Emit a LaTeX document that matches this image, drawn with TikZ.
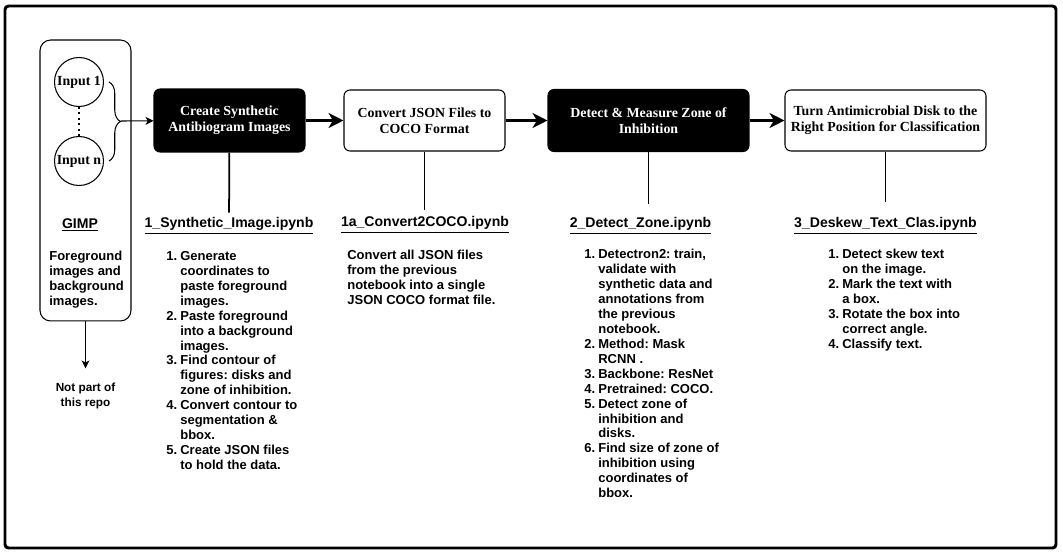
\documentclass[tikz,border=0pt]{standalone}
\usepackage{fontspec}
\setmainfont{Liberation Serif}
\setsansfont{Liberation Sans}
\usetikzlibrary{arrows.meta,decorations.pathreplacing}
\frenchspacing

\newcommand{\itm}[1]{\makebox[0.28cm][l]{#1}}
\newcommand{\cnt}{\hspace*{0.28cm}}

\tikzset{
  darkbox/.style={draw, fill=black, text=white, rounded corners=3.4pt, line width=0.6pt,
    align=center, font=\bfseries\fontsize{7.9}{9.1}\selectfont},
  lightbox/.style={draw, fill=white, rounded corners=3.4pt, line width=0.6pt,
    align=center, font=\bfseries\fontsize{7.9}{9.1}\selectfont},
  inputnode/.style={draw, circle, minimum size=0.98cm, inner sep=0pt, line width=0.6pt,
    font=\bfseries\fontsize{7.9}{9.1}\selectfont},
  heading/.style={inner sep=1pt, font=\sffamily\bfseries\fontsize{8}{9.6}\selectfont},
  body/.style={anchor=north west, inner sep=0pt, align=left,
    font=\sffamily\bfseries\fontsize{7.4}{8.5}\selectfont},
  flow/.style={line width=1.8pt, -{Stealth[length=8.5pt,width=8.5pt,inset=2.5pt]}},
  thinflow/.style={line width=0.6pt, -{Stealth[length=4.5pt,width=4.5pt,inset=1.2pt]}},
  stem/.style={line width=1pt},
}

\begin{document}
\begin{tikzpicture}[x=0.02cm, y=-0.02cm]
\useasboundingbox (0,0) rectangle (1063,554);
\draw[line width=1.7pt, rounded corners=2pt] (5,6) rectangle (1056,548);

% GIMP side
\node[draw, rounded corners=6pt, line width=0.6pt, minimum width=1.82cm, minimum height=5.62cm] (gimp) at (85.5,180.5) {};
\node[inputnode] (in1) at (79,82) {Input 1};
\node[inputnode] (inn) at (79,161) {Input n};
\draw[dotted, line width=1.1pt] (in1) -- (inn);
\coordinate (bracetop) at (109,82);
\coordinate (bracebot) at (109,161);
\coordinate (bracetip) at (121,121);
\draw[line width=0.6pt, decorate, decoration={brace, amplitude=0.23cm}] (bracetop) -- (bracebot);
\node[heading] (gimphead) at (80,225) {\underline{GIMP}};
\node[body] (gimptext) at (49,251) {Foreground\\images and\\background\\images.};
\node[align=center, font=\sffamily\bfseries\fontsize{6.7}{8.5}\selectfont] (notpart) at (85.5,396) {Not part of\\this repo};
\draw[thinflow, shorten >=0.17cm] (gimp) -- (notpart);

% main flow
\node[darkbox, minimum width=3.02cm, minimum height=1.26cm] (box1) at (229.5,120.5) {Create Synthetic\\Antibiogram Images};
\node[lightbox, minimum width=3.22cm, minimum height=1.22cm] (box2) at (424.5,120.5) {Convert JSON Files to\\COCO Format};
\node[darkbox, minimum width=4.02cm, minimum height=1.24cm] (box3) at (648.5,120.5) {Detect \& Measure Zone of\\Inhibition};
\node[lightbox, minimum width=4.02cm, minimum height=1.22cm] (box4) at (885.5,120.5) {Turn Antimicrobial Disk to the\\Right Position for Classification};

\draw[thinflow] (bracetip) -- (box1);
\draw[flow] (box1) -- (box2);
\draw[flow] (box2) -- (box3);
\draw[flow] (box3) -- (box4);

% notebooks
\node[heading] (h1) at (229,226) {\underline{1\_Synthetic\_Image.ipynb}};
\node[heading] (h2) at (425,225) {\underline{1a\_Convert2COCO.ipynb}};
\node[heading] (h3) at (640.5,226) {\underline{2\_Detect\_Zone.ipynb}};
\node[heading] (h4) at (885.5,226) {\underline{3\_Deskew\_Text\_Clas.ipynb}};

\draw[stem, shorten >=0.06cm] (box1) -- (h1);
\draw[stem, shorten >=0.1cm] (box2) -- (h2.north -| box2);
\draw[stem, shorten >=0.24cm] (box3) -- (h3.north -| box3);
\draw[stem, shorten >=0.28cm] (box4) -- (h4);

\node[body] (t1) at (166,251) {\itm{1.}Generate\\ \cnt coordinates to\\ \cnt paste foreground\\ \cnt images.\\
\itm{2.}Paste foreground\\ \cnt into a background\\ \cnt images.\\
\itm{3.}Find contour of\\ \cnt figures: disks and\\ \cnt zone of inhibition.\\
\itm{4.}Convert contour to\\ \cnt segmentation \&\\ \cnt bbox.\\
\itm{5.}Create JSON files\\ \cnt to hold the data.};
\node[body] (t2) at (347,250) {Convert all JSON files\\from the previous\\notebook into a single\\JSON COCO format file.};
\node[body] (t3) at (584,249) {\itm{1.}Detectron2: train,\\ \cnt validate with\\ \cnt synthetic data and\\ \cnt annotations from\\ \cnt the previous\\ \cnt notebook.\\
\itm{2.}Method: Mask\\ \cnt RCNN .\\
\itm{3.}Backbone: ResNet\\
\itm{4.}Pretrained: COCO.\\
\itm{5.}Detect zone of\\ \cnt inhibition and\\ \cnt disks.\\
\itm{6.}Find size of zone of\\ \cnt inhibition using\\ \cnt coordinates of\\ \cnt bbox.};
\node[body] (t4) at (828,249) {\itm{1.}Detect skew text\\ \cnt on the image.\\
\itm{2.}Mark the text with\\ \cnt a box.\\
\itm{3.}Rotate the box into\\ \cnt correct angle.\\
\itm{4.}Classify text.};
\end{tikzpicture}
\end{document}
